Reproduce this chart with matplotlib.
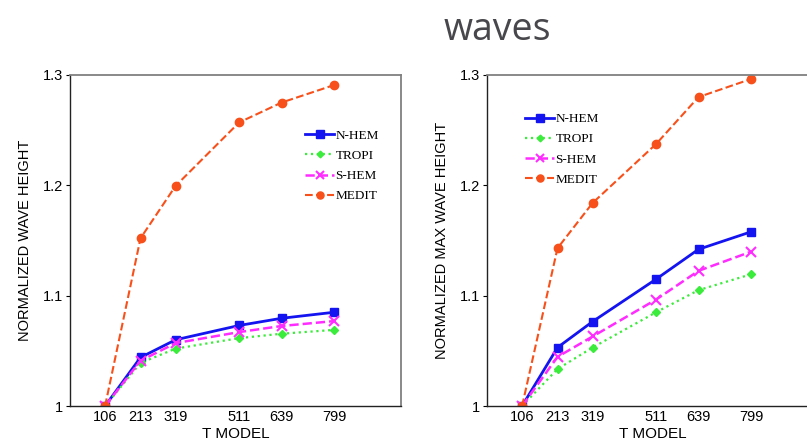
import matplotlib.pyplot as plt

# T model resolutions (x axis)
t_model = [106, 213, 319, 511, 639, 799]

# Normalized mean wave height per region
nhem_hs = [1.000, 1.044, 1.060, 1.073, 1.0795, 1.085]
tropi_hs = [1.000, 1.039, 1.052, 1.0615, 1.0655, 1.069]
shem_hs = [1.000, 1.041, 1.057, 1.067, 1.0725, 1.077]
medit_hs = [1.000, 1.152, 1.1995, 1.257, 1.275, 1.291]

# Normalized max wave height per region
nhem_max = [1.000, 1.053, 1.0765, 1.115, 1.142, 1.158]
tropi_max = [1.000, 1.0335, 1.053, 1.085, 1.105, 1.1195]
shem_max = [1.000, 1.0445, 1.063, 1.0965, 1.1225, 1.140]
medit_max = [1.000, 1.143, 1.184, 1.2375, 1.280, 1.2965]

y_ticks = [1.0, 1.1, 1.2, 1.3]
y_tick_labels = ["1", "1.1", "1.2", "1.3"]

sans = ["Liberation Sans", "DejaVu Sans"]
serif = ["Liberation Serif", "DejaVu Serif"]

styles = {
    "N-HEM": dict(color="#1414f0", ls="-", marker="s", ms=6, lw=2.0),
    "TROPI": dict(color="#3cec3c", ls=":", marker="D", ms=4, lw=1.6),
    "S-HEM": dict(color="#ff2cff", ls="--", marker="x", ms=7, mew=1.5, lw=1.8),
    "MEDIT": dict(color="#f8501a", ls="--", marker="o", ms=6, lw=1.5),
}

fig = plt.figure(figsize=(8.07, 4.42), dpi=100)
fig.text(0.616, 0.933, "waves", fontsize=27, color="#48484c",
         family=["Open Sans", "DejaVu Sans"], ha="center", va="center")

ax1 = fig.add_axes([70 / 807, 36 / 442, 331 / 807, 331 / 442])
ax2 = fig.add_axes([487 / 807, 36 / 442, 331 / 807, 331 / 442])

panels = [
    (ax1, [nhem_hs, tropi_hs, shem_hs, medit_hs], "NORMALIZED WAVE HEIGHT",
     (0.69, 0.855)),
    (ax2, [nhem_max, tropi_max, shem_max, medit_max], "NORMALIZED MAX WAVE HEIGHT",
     (0.095, 0.905)),
]

for ax, series, ylabel, leg_pos in panels:
    for (name, st), vals in zip(styles.items(), series):
        ax.plot(t_model, vals, label=name, **st)
    ax.set_xlim(0, 1000)
    ax.set_ylim(1.0, 1.3)
    ax.set_xticks(t_model)
    ax.set_xticklabels([str(t) for t in t_model], family=sans, fontsize=10.5)
    ax.set_yticks(y_ticks)
    ax.set_yticklabels(y_tick_labels, family=sans, fontsize=10.5)
    ax.tick_params(axis="x", length=0, pad=3)
    ax.tick_params(axis="y", length=3, width=0.8, pad=2)
    ax.set_ylabel(ylabel, family=sans, fontsize=10.5, labelpad=8)
    ax.set_xlabel("T MODEL", family=sans, fontsize=11, labelpad=2)
    for side in ("left", "bottom"):
        ax.spines[side].set_color("#222222")
        ax.spines[side].set_linewidth(1.0)
    for side in ("top", "right"):
        ax.spines[side].set_color("#808080")
        ax.spines[side].set_linewidth(1.3)
    ax.legend(loc="upper left", bbox_to_anchor=leg_pos, frameon=False,
              prop={"family": serif, "size": 9.5}, handlelength=2.2,
              handletextpad=0.1, labelspacing=0.6, borderpad=0,
              markerscale=0.85)

fig.savefig("out.png", dpi=100)
